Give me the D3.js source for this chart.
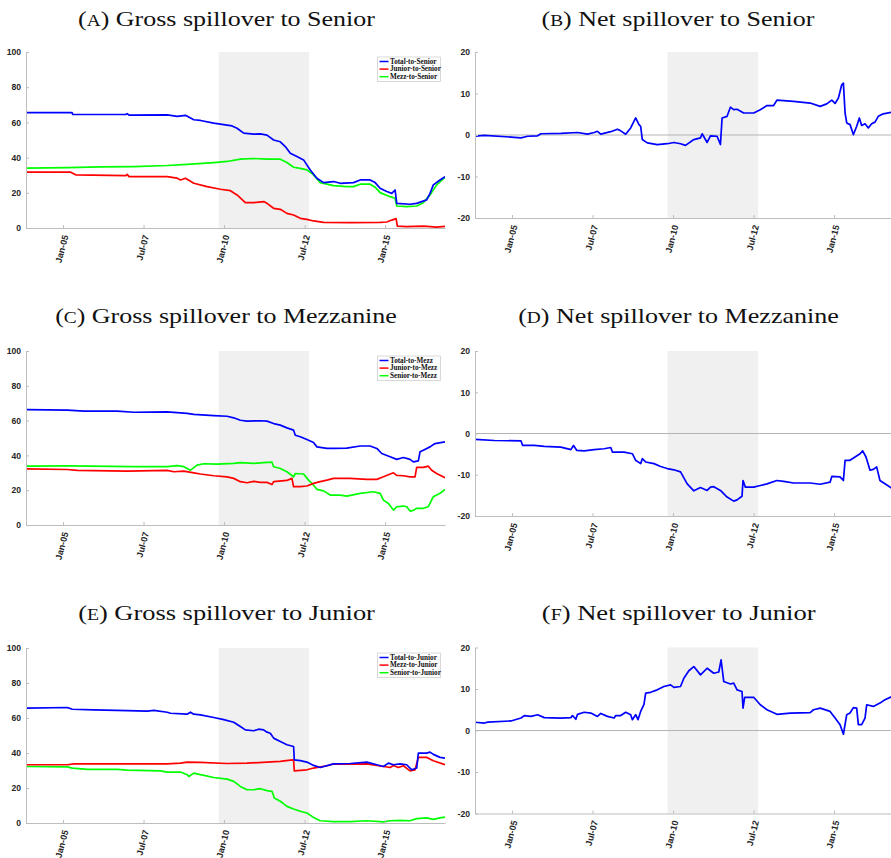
<!DOCTYPE html>
<html>
<head>
<meta charset="utf-8">
<script src="https://cdn.jsdelivr.net/npm/d3@7/dist/d3.min.js"></script>
<style>
  body { margin: 0; background: #fff; }
</style>
</head>
<body>
<div id="chart"></div>
<script>
// ---- données (année décimale, valeur) ----
const tickYears  = [2005, 2007.5, 2010, 2012.5, 2015];
const tickLabels = ["Jan-05", "Jul-07", "Jan-10", "Jul-12", "Jan-15"];
const xDomain    = [2003.85, 2016.86];
const crisis     = [2009.83, 2012.64];
const grossTicks = [0, 20, 40, 60, 80, 100];
const netTicks   = [-20, -10, 0, 10, 20];

const titles = [
  ["A", "Gross spillover to Senior"], ["B", "Net spillover to Senior"],
  ["C", "Gross spillover to Mezzanine"], ["D", "Net spillover to Mezzanine"],
  ["E", "Gross spillover to Junior"], ["F", "Net spillover to Junior"]
];
const legendSenior = ["Total-to-Senior", "Junior-to-Senior", "Mezz-to-Senior"];
const legendMezz   = ["Total-to-Mezz", "Junior-to-Mezz", "Senior-to-Mezz"];
const legendJunior = ["Total-to-Junior", "Mezz-to-Junior", "Senior-to-Junior"];

const grossSeniorTotal = [[2003.874,65.6],[2005.28,65.6],[2005.30,64.5],[2006.684,64.5],[2006.95,64.5],[2006.99,65],[2007.05,64.1],[2008.233,64.3],[2008.543,63.4],[2008.802,64.0],[2009.06,61.5],[2009.267,61.1],[2009.68,59.6],[2009.886,59],[2010.248,58],[2010.403,56.7],[2010.61,53.9],[2010.919,53.3],[2011.126,53.5],[2011.333,52.8],[2011.539,50],[2011.746,49],[2011.901,46.3],[2012.056,42.5],[2012.262,40.6],[2012.469,38.7],[2012.676,33],[2012.882,28.3],[2013.089,25.8],[2013.399,26.4],[2013.605,25.4],[2014.019,25.8],[2014.225,27.3],[2014.535,27.3],[2014.69,25.8],[2014.845,22.6],[2015.052,20.7],[2015.207,19.7],[2015.31,21.6],[2015.362,14],[2015.775,13.5],[2015.981,14],[2016.136,15],[2016.291,16],[2016.395,19.7],[2016.498,24.5],[2016.705,27.3],[2016.86,29.2]];
const grossSeniorJunior = [[2003.874,31.7],[2005.24,31.7],[2005.39,30.2],[2006.95,29.8],[2006.99,30.5],[2007.05,29.2],[2008.233,29.2],[2008.543,28.3],[2008.647,27.3],[2008.802,28.3],[2009.06,25.4],[2009.473,23.5],[2009.886,22],[2010.196,21.2],[2010.403,18.8],[2010.661,14.4],[2010.919,14.4],[2011.229,15],[2011.333,14.0],[2011.539,11.2],[2011.746,10.6],[2011.952,8.3],[2012.159,7.4],[2012.366,5.5],[2012.572,4.9],[2012.779,4],[2013.089,3.2],[2013.915,3],[2014.845,3.2],[2015.052,3.4],[2015.207,4.5],[2015.341,5.3],[2015.382,1.1],[2015.671,0.8],[2016.188,1.1],[2016.601,0.5],[2016.86,0.9]];
const grossSeniorMezz = [[2003.874,34],[2005.134,34.3],[2006.167,34.7],[2007.2,34.9],[2008.233,35.5],[2008.853,36.2],[2009.68,37.2],[2010.093,37.8],[2010.506,39.1],[2010.919,39.5],[2011.333,39.1],[2011.746,39.1],[2011.952,37.2],[2012.159,34.5],[2012.366,33.9],[2012.572,33],[2012.779,30.2],[2012.986,25.8],[2013.399,24.1],[2013.812,23.5],[2014.019,23.5],[2014.225,24.9],[2014.535,24.9],[2014.69,23.2],[2014.845,20.1],[2015.155,17.8],[2015.31,16.9],[2015.362,12.5],[2015.671,12.1],[2015.981,12.5],[2016.188,14.4],[2016.395,18.8],[2016.601,24.5],[2016.86,28.7]];
const netSenior = [[2003.824,-0.3],[2004.143,-0.1],[2004.969,-0.5],[2005.279,-0.7],[2005.485,-0.3],[2005.795,-0.2],[2005.898,0.3],[2006.517,0.4],[2007.033,0.6],[2007.343,0.2],[2007.549,0.6],[2007.652,0.9],[2007.755,0.2],[2008.065,0.8],[2008.168,1.1],[2008.271,1.4],[2008.375,1.0],[2008.529,0.2],[2008.684,1.7],[2008.839,4.1],[2008.942,2.5],[2008.994,2.1],[2009.045,-1.1],[2009.2,-1.9],[2009.51,-2.3],[2009.819,-2.1],[2010.026,-1.8],[2010.232,-2.1],[2010.387,-2.5],[2010.645,-1.1],[2010.851,-0.7],[2010.903,0.3],[2011.058,-1.8],[2011.161,-0.2],[2011.367,-0.3],[2011.471,-2.3],[2011.522,4.1],[2011.677,4.5],[2011.78,6.7],[2011.883,6.1],[2011.987,6.2],[2012.193,5.3],[2012.503,5.3],[2012.709,6.1],[2012.915,7.1],[2013.122,7.1],[2013.225,8.4],[2013.741,8.1],[2014.257,7.7],[2014.567,6.9],[2014.773,7.5],[2014.928,8.4],[2015.031,7.6],[2015.134,8.9],[2015.237,12.1],[2015.289,12.5],[2015.341,5.3],[2015.392,2.9],[2015.495,2.5],[2015.598,0.1],[2015.702,2.1],[2015.784,4.1],[2015.856,2.3],[2015.96,2.7],[2016.063,1.7],[2016.166,2.7],[2016.27,3.1],[2016.372,4.5],[2016.527,5.1],[2016.86,5.6]];

const grossMezzTotal = [[2003.874,66.3],[2005.134,66],[2005.651,65.4],[2006.684,65.4],[2007.2,64.8],[2008.233,65],[2008.853,64.2],[2009.06,63.6],[2009.68,62.9],[2010.093,62.5],[2010.3,61.6],[2010.506,60.2],[2010.713,59.7],[2011.126,59.9],[2011.333,59.7],[2011.539,58.3],[2011.746,57.4],[2011.952,55.8],[2012.159,54.5],[2012.211,51.6],[2012.366,50.7],[2012.572,49.1],[2012.779,47.4],[2012.882,44.9],[2013.192,44],[2013.399,44],[2013.812,44.2],[2014.225,45.4],[2014.535,45.4],[2014.742,44],[2014.897,41.1],[2015.155,39.2],[2015.362,37.7],[2015.568,38.8],[2015.775,37.7],[2015.878,36.3],[2016.033,36.9],[2016.085,42.1],[2016.188,43],[2016.395,44.9],[2016.55,46.8],[2016.86,47.8]];
const grossMezzJunior = [[2003.874,32.3],[2005.134,31.9],[2005.444,31.4],[2006.994,31],[2008.233,31.4],[2008.44,30.6],[2008.75,31],[2009.06,30],[2009.267,29.3],[2009.68,28.3],[2010.093,27.7],[2010.3,26.8],[2010.506,24.9],[2010.713,24.3],[2010.919,25.1],[2011.126,24.5],[2011.333,24.5],[2011.488,23.3],[2011.539,24.9],[2011.952,25.6],[2012.107,26.8],[2012.159,22],[2012.366,22],[2012.572,22.4],[2012.779,23.9],[2012.986,24.9],[2013.192,25.8],[2013.399,26.8],[2013.915,26.8],[2014.432,26.2],[2014.742,26.2],[2014.948,27.7],[2015.258,30],[2015.362,28.5],[2015.568,28.3],[2015.775,27.7],[2015.93,27.7],[2015.981,33.1],[2016.188,33.1],[2016.343,33.8],[2016.446,31.5],[2016.601,29.6],[2016.86,27.2]];
const grossMezzSenior = [[2003.874,33.8],[2005.134,34],[2007.2,33.6],[2008.233,33.5],[2008.543,34.1],[2008.75,33.5],[2008.957,31.5],[2009.163,34.4],[2009.37,35.2],[2009.783,35],[2010.3,35.4],[2010.506,35.8],[2010.919,35.4],[2011.229,35.8],[2011.488,36.1],[2011.539,33.5],[2011.746,32.5],[2011.952,30.6],[2012.159,27.7],[2012.211,29.6],[2012.469,29.3],[2012.624,25.8],[2012.779,22.9],[2012.882,20.5],[2013.089,19.6],[2013.295,17.2],[2013.605,17.2],[2013.812,16.6],[2014.225,18.2],[2014.638,19.1],[2014.845,18.2],[2014.948,14.3],[2015.103,12.4],[2015.258,8.6],[2015.362,10.5],[2015.568,10.9],[2015.671,10.5],[2015.775,8],[2015.878,8.4],[2015.981,9.6],[2016.188,9.6],[2016.343,10.5],[2016.498,16.3],[2016.705,18.2],[2016.86,20.5]];
const netMezz = [[2003.824,-1.4],[2004.453,-1.7],[2005.279,-1.8],[2005.33,-2.9],[2005.691,-2.9],[2006.001,-3.1],[2006.517,-3.3],[2006.827,-3.9],[2006.909,-2.9],[2007.012,-4.1],[2007.239,-4.2],[2007.549,-3.9],[2007.859,-3.7],[2008.065,-3.4],[2008.117,-4.5],[2008.478,-4.5],[2008.736,-4.9],[2008.839,-6.5],[2008.994,-7.3],[2009.045,-6.1],[2009.149,-6.9],[2009.407,-7.3],[2009.613,-8],[2009.819,-8.5],[2010.026,-8.8],[2010.232,-9.3],[2010.439,-12.2],[2010.645,-13.9],[2010.851,-13.1],[2011.058,-13.8],[2011.161,-13],[2011.264,-12.9],[2011.471,-13.8],[2011.677,-15.4],[2011.883,-16.4],[2011.987,-16.1],[2012.141,-15.2],[2012.172,-11.4],[2012.245,-13],[2012.503,-13],[2012.709,-12.6],[2012.915,-12.2],[2013.225,-11.4],[2013.431,-11.6],[2013.741,-12],[2014.257,-12],[2014.567,-12.3],[2014.876,-11.8],[2014.928,-10.4],[2015.186,-10.5],[2015.289,-11.4],[2015.341,-6.5],[2015.495,-6.5],[2015.65,-5.7],[2015.805,-4.9],[2015.887,-4.2],[2015.991,-5.7],[2016.115,-8.9],[2016.218,-8.7],[2016.321,-8.1],[2016.424,-11.4],[2016.579,-12.2],[2016.86,-13.6]];

const grossJuniorTotal = [[2003.874,65.6],[2005.134,66],[2005.289,65],[2005.961,64.6],[2006.994,64.2],[2007.614,63.9],[2007.82,64.4],[2008.233,63.3],[2008.337,62.7],[2008.853,62.2],[2008.957,63.3],[2009.06,62.2],[2009.267,61.8],[2009.68,60.3],[2009.99,59.1],[2010.3,57.6],[2010.506,55.1],[2010.661,53.2],[2010.919,52.7],[2011.074,53.6],[2011.229,53.2],[2011.333,51.9],[2011.436,51.3],[2011.539,48.5],[2011.746,46.6],[2011.952,44.7],[2012.159,43.7],[2012.18,36.1],[2012.366,35.6],[2012.572,34.8],[2012.779,32.9],[2012.986,31.7],[2013.399,33.8],[2013.915,34],[2014.432,34.8],[2014.742,33.3],[2014.948,32.3],[2015.103,34.2],[2015.258,33.3],[2015.465,33.8],[2015.671,33.3],[2015.826,30.4],[2015.981,31.4],[2016.033,39.9],[2016.291,39.9],[2016.395,40.5],[2016.498,39.2],[2016.705,37.5],[2016.86,37.1]];
const grossJuniorMezz = [[2003.874,33.3],[2005.134,33.3],[2005.341,33.8],[2008.233,33.8],[2008.647,34.2],[2008.853,34.8],[2009.267,34.6],[2010.093,34],[2010.713,34.2],[2011.333,34.8],[2011.746,35.2],[2012.056,35.9],[2012.159,36.1],[2012.18,29.8],[2012.572,30.4],[2012.779,31.4],[2013.192,32.7],[2013.399,33.7],[2013.915,33.7],[2014.432,33.8],[2014.948,32.3],[2015.155,31.7],[2015.258,32.9],[2015.413,31.7],[2015.568,32.7],[2015.775,29.8],[2015.93,30.4],[2016.033,37.5],[2016.291,37.5],[2016.498,35.6],[2016.86,33.3]];
const grossJuniorSenior = [[2003.874,32.3],[2005.134,32.1],[2005.289,31.4],[2005.754,30.6],[2006.684,30.6],[2006.994,30.2],[2008.027,29.8],[2008.233,29.1],[2008.647,29.1],[2008.853,27.6],[2008.905,26.6],[2009.06,28.5],[2009.267,27.6],[2009.68,26],[2010.093,25.1],[2010.3,23.8],[2010.506,20.9],[2010.713,19],[2010.919,19],[2011.126,19.6],[2011.333,18.5],[2011.488,18.1],[2011.56,14.3],[2011.746,12.4],[2011.952,9.5],[2012.159,8],[2012.366,6.7],[2012.572,5.7],[2012.779,3.2],[2012.986,1.3],[2013.399,0.8],[2013.915,0.8],[2014.432,1.3],[2014.948,0.6],[2015.155,1.3],[2015.465,1.5],[2015.775,1.3],[2015.981,2.5],[2016.291,2.9],[2016.498,2.1],[2016.705,2.9],[2016.86,3.4]];
const netJunior = [[2003.824,2],[2004.143,1.8],[2004.247,2],[2004.969,2.3],[2005.279,3],[2005.382,3.6],[2005.588,3.4],[2005.795,3.8],[2006.001,3.1],[2006.517,3],[2006.827,3.1],[2006.878,3.6],[2006.981,2.7],[2007.033,3.9],[2007.239,4.4],[2007.446,4.2],[2007.652,3.4],[2007.755,4.1],[2007.962,3.4],[2008.168,3],[2008.22,3.6],[2008.375,3.6],[2008.529,4.4],[2008.684,3.8],[2008.736,2.6],[2008.839,3.8],[2008.911,2.6],[2008.994,4.6],[2009.097,6.3],[2009.149,9],[2009.303,9.2],[2009.51,9.8],[2009.716,10.6],[2009.923,11],[2010.026,10.4],[2010.232,10.6],[2010.335,12.6],[2010.49,14.4],[2010.645,15.4],[2010.851,13.4],[2011.058,15],[2011.264,13.8],[2011.419,14.1],[2011.491,17],[2011.574,11.8],[2011.78,11.2],[2011.883,11.4],[2011.987,9.8],[2012.141,9.4],[2012.172,5.4],[2012.224,8],[2012.503,8],[2012.709,6.2],[2012.915,5],[2013.225,3.9],[2013.638,4.2],[2014.257,4.3],[2014.36,5],[2014.567,5.4],[2014.876,4.6],[2015.031,3],[2015.186,1.4],[2015.289,-0.9],[2015.392,3.8],[2015.495,4.2],[2015.598,5.5],[2015.702,5.4],[2015.753,1.4],[2015.856,1.4],[2015.96,3],[2016.012,6.2],[2016.218,5.8],[2016.424,6.6],[2016.579,7.4],[2016.86,8.4]];

// couleurs MATLAB
const BLUE = "#0000ff", RED = "#ff0000", GREEN = "#00ff00";
const AXIS = "#bdbdbd";

// ---- mise en page des 6 panneaux ----
const panels = [
  {left: 26,  top: 52,  w: 419, h: 176, net: false, series: [grossSeniorTotal, grossSeniorJunior, grossSeniorMezz], legend: legendSenior, tx: 226.5, ty: 26,  tw: 297},
  {left: 475, top: 52,  w: 419, h: 166, net: true,  series: [netSenior], tx: 678, ty: 26, tw: 273},
  {left: 26,  top: 351, w: 419, h: 174, net: false, series: [grossMezzTotal, grossMezzJunior, grossMezzSenior], legend: legendMezz, tx: 226, ty: 323, tw: 342},
  {left: 475, top: 351, w: 419, h: 165, net: true,  series: [netMezz], tx: 678.5, ty: 323, tw: 321},
  {left: 26,  top: 648, w: 419, h: 175, net: false, series: [grossJuniorTotal, grossJuniorMezz, grossJuniorSenior], legend: legendJunior, tx: 226.5, ty: 620, tw: 297},
  {left: 475, top: 647.5, w: 419, h: 166, net: true, series: [netJunior], tx: 678.7, ty: 620, tw: 274}
];
const colors = [BLUE, RED, GREEN];

const svg = d3.select("#chart").append("svg")
  .attr("width", 891).attr("height", 858);

panels.forEach((p, k) => {
  // titre
  const t = svg.append("text")
    .attr("text-anchor", "middle")
    .style("font-family", "'Liberation Serif', 'Times New Roman', serif")
    .style("font-size", "21.5px")
    .style("fill", "#111");
  t.append("tspan").text("(");
  t.append("tspan").style("font-size", "16px").text(titles[k][0]);
  t.append("tspan").text(") " + titles[k][1]);
  const bw = t.node().getBBox().width;
  t.attr("transform", `translate(${p.tx},${p.ty}) scale(${p.tw / bw},1)`);

  const g = svg.append("g").attr("transform", `translate(${p.left},${p.top})`);
  const x = d3.scaleLinear().domain(xDomain).range([0, p.w]);
  const y = d3.scaleLinear().domain(p.net ? [-20, 20] : [0, 100]).range([p.h, 0]);

  // zone grisée (crise)
  g.append("rect")
    .attr("x", x(crisis[0])).attr("y", 0)
    .attr("width", x(crisis[1]) - x(crisis[0])).attr("height", p.h)
    .attr("fill", "#f0f0f0");

  if (p.net) {
    g.append("line")
      .attr("x1", 0).attr("x2", p.w)
      .attr("y1", y(0)).attr("y2", y(0))
      .attr("stroke", "#b4b4b4").attr("stroke-width", 1);
  }

  const clipId = "clip" + k;
  g.append("clipPath").attr("id", clipId)
    .append("rect").attr("width", p.w).attr("height", p.h + 2).attr("y", -1);

  const line = d3.line().x(d => x(d[0])).y(d => y(d[1]));
  // ordre : vert, rouge, bleu (le bleu au-dessus)
  const order = p.series.map((s, i) => i).reverse();
  order.forEach(i => {
    g.append("path")
      .datum(p.series[i])
      .attr("clip-path", `url(#${clipId})`)
      .attr("fill", "none")
      .attr("stroke", colors[i])
      .attr("stroke-width", 1.7)
      .attr("stroke-linejoin", "round")
      .attr("d", line);
  });

  // axes (tirets simples comme MATLAB, pas de signe moins unicode)
  const yAxis = g.append("g")
    .call(d3.axisLeft(y).tickValues(p.net ? netTicks : grossTicks)
      .tickFormat(d => String(d))
      .tickSize(-3).tickSizeOuter(0).tickPadding(5));
  const xAxis = g.append("g")
    .attr("transform", `translate(0,${p.h})`)
    .call(d3.axisBottom(x).tickValues(tickYears)
      .tickFormat((d, i) => tickLabels[i])
      .tickSize(-3).tickSizeOuter(0).tickPadding(5));

  [yAxis, xAxis].forEach(a => {
    a.select(".domain").attr("stroke", AXIS);
    a.selectAll(".tick line").attr("stroke", AXIS);
    a.selectAll("text")
      .style("font-family", "'Liberation Sans', Arial, sans-serif")
      .style("font-weight", "bold")
      .style("font-size", "8.6px")
      .attr("fill", "#262626");
  });

  xAxis.selectAll("text")
    .attr("y", 0).attr("x", 0).attr("dy", "0.35em")
    .attr("text-anchor", "end")
    .style("font-size", "9px")
    .attr("transform", "translate(2,7) rotate(-75)");

  // légende
  if (p.legend) {
    const lw = 63, lh = 24.5;
    const lg = g.append("g").attr("transform", `translate(${p.w - 4.5 - lw},5)`);
    lg.append("rect").attr("width", lw).attr("height", lh)
      .attr("fill", "#fff").attr("stroke", "#cfcfcf").attr("stroke-width", 0.8);
    p.legend.forEach((name, i) => {
      const yy = 4.5 + i * 7.6;
      lg.append("line").attr("x1", 2).attr("x2", 11).attr("y1", yy).attr("y2", yy)
        .attr("stroke", colors[i]).attr("stroke-width", 1.5);
      lg.append("text").attr("x", 12.5).attr("y", yy).attr("dy", "0.33em")
        .style("font-family", "'Liberation Serif', 'Times New Roman', serif")
        .style("font-weight", "bold").style("font-size", "7.2px")
        .attr("fill", "#111").text(name);
    });
  }
});
</script>
</body>
</html>
